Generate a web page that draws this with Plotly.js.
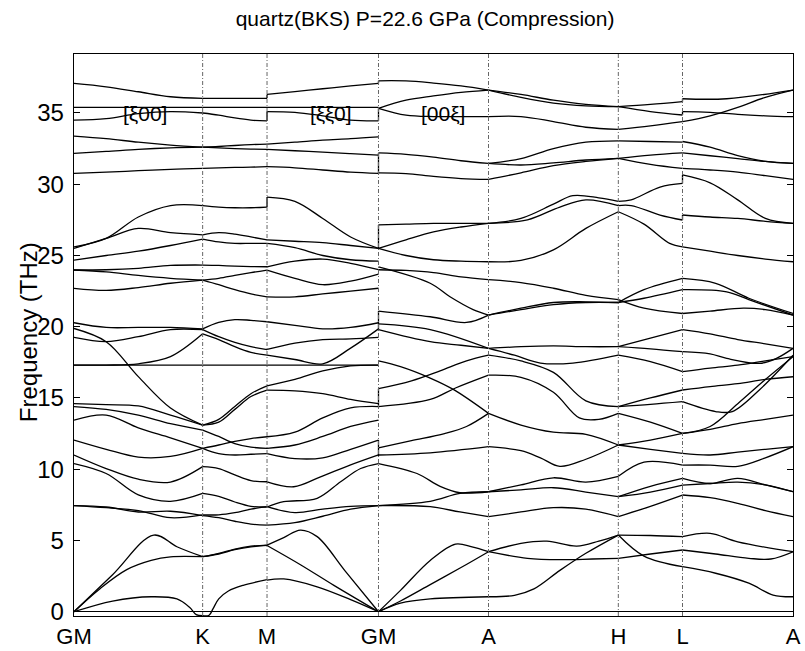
<!DOCTYPE html>
<html><head><meta charset="utf-8">
<script src="https://cdn.plot.ly/plotly-3.0.1.min.js"></script>
<style>html,body{margin:0;padding:0;background:#fff}#chart{width:805px;height:651px}</style>
</head><body><div id="chart"></div>
<script>
// High-symmetry points along the path (reciprocal-space distance units)
const kLabels = ['GM','K','M','GM','A','H','L','A'];
const kPos = [0, 1.333, 2.0, 3.155, 4.295, 5.64, 6.305, 7.45];

// Each branch: either evenly spaced frequencies (THz) along the segment,
// or [t, f] pairs with t = fraction of the segment.
const segGK = [
  [37.08,36.84,36.49,36.14,36.03],
  [35.4,35.4,35.4,35.4,35.4],
  [34.5,34.6,34.95,35.1,35.0],
  [33.38,33.2,32.95,32.75,32.6],
  [32.17,32.3,32.45,32.55,32.6],
  [30.76,30.85,30.95,31.05,31.11],
  [25.6,26.2,27.7,28.5,28.5],
  [25.5,26.2,26.9,26.6,26.45],
  [24.68,25.0,25.3,25.7,26.15],
  [23.98,24.0,24.1,24.3,24.33],
  [23.98,23.85,23.6,23.4,23.27],
  [22.69,22.55,22.75,23.05,23.27],
  [20.28,19.95,19.95,19.95,19.85],
  [19.88,18.95,16.5,14.3,13.1],
  [19.25,18.95,19.3,19.8,19.8],
  [17.31,17.31,17.4,17.9,19.5],
  [17.31,17.31,17.31,17.31,17.31],
  [14.6,14.53,14.44,13.8,13.1],
  [14.4,14.2,13.8,13.2,12.75],
  [13.45,13.8,12.9,12.2,11.47],
  [12.05,11.4,10.85,10.9,11.47],
  [11.0,10.05,9.3,9.1,10.18],
  [10.4,9.7,8.2,7.75,8.3],
  [7.45,7.3,7.1,6.6,6.8],
  [7.45,7.35,7.0,7.05,6.75],
  [[0,0],[0.3,2.6],[0.62,5.38],[0.8,4.56],[1,3.86]],
  [[0,0],[0.2,1.6],[0.41,2.95],[0.6,3.6],[0.75,3.85],[1,3.86]],
  [[0,0],[0.3,0.75],[0.6,1.05],[0.8,0.9],[0.9,0.3],[0.95,-0.2],[1,-0.28]]
];
const segKM = [
  [36.03,36.03,36.03,36.03,36.03],
  [35.4,35.4,35.4,35.4,35.4],
  [35.0,34.85,34.65,34.5,34.44],
  [32.6,32.65,32.72,32.78,32.82],
  [32.6,32.55,32.5,32.47,32.45],
  [31.11,31.15,31.18,31.2,31.23],
  [28.5,28.4,28.35,28.35,28.4],
  [26.45,26.6,26.5,26.3,26.1],
  [26.15,25.95,25.85,25.85,25.85],
  [24.33,24.3,24.25,24.22,24.21],
  [23.27,23.4,23.6,23.8,23.98],
  [23.27,22.95,22.6,22.3,22.1],
  [19.85,20.3,20.5,20.45,20.35],
  [19.8,19.3,18.9,18.6,18.4],
  [19.5,19.1,18.6,18.2,18.0],
  [17.31,17.31,17.31,17.31,17.31],
  [13.1,13.5,14.4,15.3,15.85],
  [13.1,13.3,14.2,15.1,15.55],
  [12.75,12.3,11.8,11.55,11.47],
  [11.47,11.1,11.0,11.05,11.1],
  [11.47,11.7,11.95,12.15,12.28],
  [10.18,10.05,9.6,9.2,9.12],
  [8.3,8.1,7.7,7.4,7.35],
  [6.8,6.8,6.95,7.2,7.37],
  [6.75,6.6,6.35,6.15,6.08],
  [3.86,4.1,4.4,4.6,4.68],
  [3.86,4.05,4.35,4.55,4.65],
  [[0,-0.28],[0.1,-0.25],[0.16,0.2],[0.25,0.9],[0.4,1.45],[0.63,1.85],[1,2.25]]
];
const segMG = [
  [36.3,36.5,36.7,36.9,37.08],
  [35.4,35.4,35.4,35.4,35.4],
  [35.1,35.05,34.8,34.5,34.45],
  [32.82,32.95,33.1,33.2,33.33],
  [32.45,32.35,32.25,32.15,32.05],
  [31.23,31.15,31.0,30.85,30.76],
  [29.1,28.8,27.6,26.3,25.5],
  [26.1,26.0,25.9,25.7,25.5],
  [25.85,25.55,25.0,24.7,24.6],
  [24.2,24.6,24.75,24.45,24.0],
  [23.98,23.4,22.95,23.2,23.7],
  [22.1,22.1,22.3,22.5,22.7],
  [20.35,20.1,19.85,19.95,20.28],
  [18.41,18.85,19.1,19.15,19.25],
  [18.0,17.7,17.4,18.5,19.85],
  [17.31,17.31,17.31,17.31,17.31],
  [15.85,16.3,16.9,17.25,17.31],
  [15.55,15.5,15.3,14.9,14.6],
  [12.28,12.6,13.6,14.3,14.4],
  [11.47,11.7,12.3,13.0,13.45],
  [11.1,10.75,10.8,11.4,12.05],
  [[0,9.12],[0.24,8.77],[0.48,9.47],[0.75,10.3],[1,11.0]],
  [[0,7.35],[0.15,7.72],[0.45,7.96],[0.66,9.12],[0.84,10.05],[1,10.4]],
  [7.37,6.95,7.2,7.4,7.45],
  [6.08,6.25,6.7,7.2,7.45],
  [[0,4.68],[0.15,5.2],[0.3,5.73],[0.45,5.27],[0.7,2.87],[1,0]],
  [[0,4.65],[0.3,3.3],[0.6,1.85],[1,0]],
  [[0,2.22],[0.15,2.3],[0.45,1.75],[0.75,0.85],[1,0]]
];
const segGA = [
  [37.26,37.25,37.1,36.9,36.61],
  [35.33,35.9,36.2,36.45,36.61],
  [35.33,34.85,34.75,34.75,34.74],
  [32.2,32.1,31.9,31.65,31.46],
  [30.8,30.75,30.55,30.4,30.34],
  [27.15,27.2,27.25,27.25,27.26],
  [25.5,26.1,26.65,27.0,27.26],
  [25.5,25.0,24.7,24.6,24.56],
  [24.0,23.95,23.8,23.5,23.3],
  [[0,24.2],[0.47,23.05],[0.65,22.1],[0.86,21.2],[1,20.82]],
  [[0,21.1],[0.47,20.7],[0.8,20.3],[1,20.82]],
  [[0,20.2],[0.47,19.8],[1,18.48]],
  [[0,19.8],[0.47,18.95],[0.75,18.7],[1,18.48]],
  [[0,17.6],[0.2,17.2],[0.47,16.4],[0.68,15.6],[1,13.92]],
  [[0,15.65],[0.3,16.2],[0.56,16.9],[0.8,17.6],[1,18.0]],
  [[0,14.4],[0.47,14.9],[0.7,15.7],[1,16.6]],
  [[0,11.5],[0.3,12.0],[0.6,12.5],[0.8,13.0],[1,13.92]],
  [[0,11.0],[0.47,11.15],[1,11.58]],
  [[0,10.4],[0.35,9.7],[0.56,8.8],[0.74,8.35],[1,8.42]],
  [[0,7.45],[0.47,7.75],[0.74,8.3],[1,8.42]],
  [[0,7.45],[0.47,7.37],[0.74,7.0],[1,6.67]],
  [[0,0],[0.2,1.5],[0.47,3.6],[0.7,4.75],[0.85,4.55],[1,4.21]],
  [[0,0],[0.2,0.75],[0.47,1.9],[0.75,3.1],[1,4.21]],
  [[0,0],[0.2,0.6],[0.47,0.9],[1,1.05]]
];
const segAH = [
  [36.61,36.3,35.9,35.6,35.44],
  [36.61,36.1,35.7,35.5,35.44],
  [34.74,34.75,34.4,34.0,33.85],
  [31.46,31.8,32.5,32.95,33.05],
  [31.46,31.35,31.5,31.7,31.82],
  [30.34,30.8,31.3,31.6,31.82],
  [[0,27.26],[0.25,27.6],[0.5,28.6],[0.65,29.2],[0.85,29.05],[1,28.8]],
  [[0,27.26],[0.3,27.5],[0.55,28.4],[0.75,28.9],[1,28.5]],
  [24.56,24.65,25.4,26.9,28.07],
  [23.3,23.1,22.7,22.2,21.9],
  [20.82,21.3,21.7,21.75,21.7],
  [20.82,21.2,21.55,21.7,21.7],
  [18.48,18.6,18.65,18.6,18.6],
  [[0,18.48],[0.2,18.0],[0.4,17.45],[0.65,17.45],[1,18.0]],
  [[0,18.0],[0.25,17.6],[0.5,16.8],[0.75,14.8],[1,14.39]],
  [[0,16.6],[0.25,16.45],[0.5,15.4],[0.7,13.6],[0.85,13.5],[1,13.92]],
  [[0,13.92],[0.25,13.1],[0.5,12.6],[0.75,12.45],[1,11.7]],
  [[0,11.58],[0.25,11.3],[0.4,10.8],[0.55,10.2],[0.75,10.7],[1,11.7]],
  [[0,8.42],[0.25,8.9],[0.5,9.4],[0.75,9.1],[1,9.5]],
  [8.42,8.55,8.7,8.4,8.07],
  [6.67,7.0,7.3,7.2,6.67],
  [[0,4.21],[0.25,4.8],[0.45,4.95],[0.68,4.6],[0.85,4.95],[1,5.38]],
  [[0,4.21],[0.3,3.75],[0.55,3.65],[0.8,3.7],[1,3.75]],
  [[0,1.05],[0.2,1.15],[0.35,1.6],[0.55,2.9],[0.75,4.1],[1,5.38]]
];
const segHL = [
  [35.44,35.6,35.8],
  [35.44,35.1,34.86],
  [33.85,34.1,34.39],
  [33.05,33.0,32.95],
  [31.82,32.05,32.2],
  [31.82,31.4,31.11],
  [[0,28.8],[0.2,28.9],[0.65,29.8],[1,30.06]],
  [[0,28.5],[0.2,28.5],[0.65,27.84],[1,27.49]],
  [[0,28.07],[0.4,27.2],[0.8,25.85],[1,25.61]],
  [[0,21.7],[0.4,22.6],[1,23.39]],
  [[0,21.7],[0.4,22.0],[1,22.6]],
  [[0,21.9],[0.4,21.3],[1,20.93]],
  [18.6,19.2,19.8],
  [18.6,18.45,18.25],
  [18.0,17.55,16.85],
  [14.39,14.55,14.74],
  [14.39,15.0,15.56],
  [13.92,13.3,12.51],
  [11.7,12.05,12.51],
  [11.7,11.4,11.11],
  [[0,9.5],[0.4,10.5],[1,10.29]],
  [8.07,8.8,9.36],
  [8.07,8.4,8.89],
  [6.67,7.4,8.19],
  [5.38,5.35,5.27],
  [3.75,4.05,4.33],
  [[0,5.38],[0.4,3.9],[1,3.16]]
];
const segLA = [
  [[0,36.0],[0.4,36.0],[1,36.61]],
  [35.09,35.05,34.9,34.8,34.74],
  [34.39,34.8,35.4,36.1,36.61],
  [33.0,32.6,32.0,31.6,31.46],
  [32.2,32.0,31.8,31.6,31.46],
  [31.11,31.0,30.85,30.6,30.34],
  [[0,30.65],[0.25,30.1],[0.5,28.9],[0.75,27.6],[1,27.25]],
  [27.84,27.7,27.6,27.4,27.25],
  [25.61,25.3,25.0,24.75,24.56],
  [[0,23.39],[0.3,23.05],[0.6,22.0],[1,20.93]],
  [[0,22.6],[0.4,22.45],[0.6,21.9],[1,20.82]],
  [[0,20.93],[0.25,21.1],[0.55,21.3],[0.75,21.2],[1,20.82]],
  [19.8,19.5,19.1,18.8,18.48],
  [[0,18.25],[0.25,18.1],[0.4,17.78],[0.7,17.43],[0.85,17.78],[1,18.48]],
  [16.85,17.1,17.3,17.6,17.9],
  [[0,14.74],[0.3,14.05],[0.45,14.05],[0.7,15.6],[1,18.0]],
  [15.56,15.8,16.0,16.3,16.49],
  [[0,12.51],[0.25,13.0],[0.5,14.6],[0.75,16.3],[1,17.9]],
  [12.51,12.8,13.2,13.5,13.8],
  [11.11,11.0,11.2,11.4,11.58],
  [10.29,10.29,10.2,10.8,11.58],
  [9.36,9.0,9.36,8.9,8.42],
  [8.89,9.0,9.1,8.9,8.42],
  [8.19,8.0,7.6,7.1,6.67],
  [[0,5.27],[0.25,5.5],[0.5,4.9],[1,4.21]],
  [[0,4.33],[0.3,4.05],[0.6,3.75],[0.8,3.7],[1,4.21]],
  [[0,3.16],[0.3,2.7],[0.6,2.0],[0.82,1.17],[1,1.05]]
];
const segments = [segGK, segKM, segMG, segGA, segAH, segHL, segLA];

// Discontinuities drawn at high-symmetry points: [point index, f from, f to]
const jumps = [
  [2,28.4,29.1],[2,34.44,35.1],[2,36.03,36.3],
  [3,37.08,37.26],[3,34.45,35.33],[3,30.76,32.2],[3,25.5,27.15],
  [3,19.85,21.1],[3,14.4,15.65],[3,10.9,12.05],
  [6,35.8,36.0],[6,34.86,35.09],[6,30.06,30.65],[6,27.49,27.84]
];

function expand(line){
  if (typeof line[0] === 'number') {
    const n = line.length;
    return line.map((f,i)=>[i/(n-1), f]);
  }
  return line;
}
const bx = [], by = [];
segments.forEach((seg, i) => {
  const x0 = kPos[i], x1 = kPos[i+1];
  seg.forEach(line => {
    expand(line).forEach(([t,f]) => { bx.push(x0 + t*(x1-x0)); by.push(f); });
    bx.push(null); by.push(null);
  });
});
const jx = [], jy = [];
jumps.forEach(([k,a,b]) => { jx.push(kPos[k], kPos[k], null); jy.push(a, b, null); });

const font = 'Liberation Sans, Arial, Helvetica, sans-serif';
const traces = [
  {x: bx, y: by, mode: 'lines', line: {color: '#000', width: 1.3, shape: 'spline', smoothing: 1}, hoverinfo: 'skip', showlegend: false},
  {x: jx, y: jy, mode: 'lines', line: {color: '#000', width: 1.3}, hoverinfo: 'skip', showlegend: false}
];
const shapes = kPos.slice(1, -1).map(x => ({
  type: 'line', xref: 'x', yref: 'paper', x0: x, x1: x, y0: 0, y1: 1,
  line: {color: '#666', width: 1, dash: '4px,2px,1px,2px'}
}));
const layout = {
  width: 805, height: 651,
  margin: {l: 74, r: 12, t: 54, b: 35},
  paper_bgcolor: '#fff', plot_bgcolor: '#fff',
  font: {family: font, color: '#000'},
  title: {text: 'quartz(BKS) P=22.6 GPa (Compression)', font: {family: font, size: 21, color: '#000'},
          xref: 'container', x: 0.528, xanchor: 'center', yref: 'container', y: 0.972, yanchor: 'middle'},
  xaxis: {range: [0, kPos[kPos.length-1]], tickvals: kPos, ticktext: kLabels, ticks: '',
          showline: true, mirror: true, linecolor: '#000', linewidth: 1.3, showgrid: false, zeroline: false,
          ticklabelstandoff: 0, tickfont: {size: 22, family: font}},
  yaxis: {range: [-0.30, 39.14], tickvals: [0,5,10,15,20,25,30,35], ticks: 'inside', ticklen: 6,
          tickcolor: '#000', showline: true, mirror: 'ticks', linecolor: '#000', linewidth: 1.3,
          showgrid: false, zeroline: true, zerolinecolor: '#000', zerolinewidth: 1,
          ticklabelstandoff: 4, tickfont: {size: 24, family: font}},
  shapes: shapes,
  annotations: [
    {xref: 'paper', yref: 'paper', x: (28-74)/719, y: 0.505, text: 'Frequency (THz)', textangle: -90,
     showarrow: false, xanchor: 'center', yanchor: 'middle', font: {size: 24, family: font}},
    {x: 0.736, y: 34.97, xref: 'x', yref: 'y', text: '[ξ00]', showarrow: false, font: {size: 21, family: font}},
    {x: 2.663, y: 34.97, xref: 'x', yref: 'y', text: '[ξξ0]', showarrow: false, font: {size: 21, family: font}},
    {x: 3.819, y: 34.97, xref: 'x', yref: 'y', text: '[00ξ]', showarrow: false, font: {size: 21, family: font}}
  ]
};
Plotly.newPlot('chart', traces, layout, {displayModeBar: false, staticPlot: true});
</script>
</body></html>
